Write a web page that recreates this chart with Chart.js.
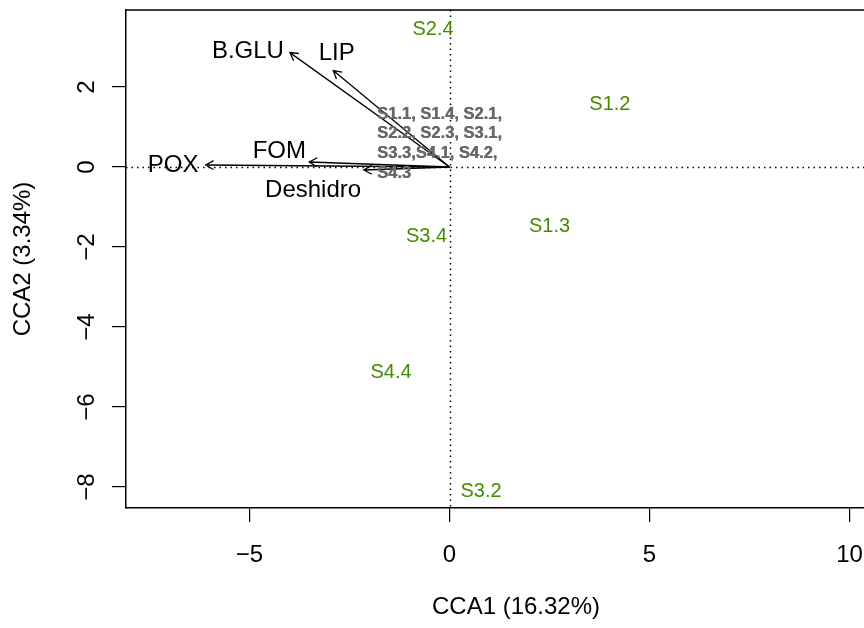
<!DOCTYPE html>
<html>
<head>
<meta charset="utf-8">
<script src="https://cdn.jsdelivr.net/npm/chart.js@4/dist/chart.umd.min.js"></script>
<style>
  html, body { margin: 0; padding: 0; background: #ffffff; overflow: hidden; }
  #wrap { width: 864px; height: 628px; }
</style>
</head>
<body>
<div id="wrap"><canvas id="cca" width="864" height="628"></canvas></div>
<script>
// Site scores (labelled individually)
const siteNames = ['S2.4', 'S1.2', 'S1.3', 'S3.4', 'S4.4', 'S3.2'];
const siteCCA1  = [-0.41, 4.01, 2.50, -0.575, -1.46, 0.79];
const siteCCA2  = [3.44, 1.57, -1.475, -1.725, -5.14, -8.10];

// Sites that overlap near the origin, written as one block of text
const clusterLines = ['S1.1, S1.4, S2.1,', 'S2.2, S2.3, S3.1,', 'S3.3,S4.1, S4.2,', 'S4.3'];
const clusterCCA1 = -1.81;
const clusterCCA2 = 1.325;

// Environmental variables (biplot arrows)
const envNames     = ['B.GLU', 'LIP', 'FOM', 'POX', 'Deshidro'];
const envCCA1      = [-3.99, -2.905, -3.505, -6.095, -2.14];
const envCCA2      = [2.86, 2.41, 0.125, 0.05, -0.075];
const envLabelCCA1 = [-5.04, -2.82, -4.255, -6.91, -3.41];
const envLabelCCA2 = [2.88, 2.84, 0.38, 0.05, -0.575];

// Axis ticks and titles
const xTicks = [-5, 0, 5, 10];
const yTicks = [-8, -6, -4, -2, 0, 2];
const xTitle = 'CCA1 (16.32%)';
const yTitle = 'CCA2 (3.34%)';

const SITE_COLOR = '#458B00';
const CLUSTER_COLOR = '#686868';
const FONT = '"Liberation Sans", Arial, Helvetica, sans-serif';

const fmt = v => (v < 0 ? '\u2212' + Math.abs(v) : String(v));

const biplotDecor = {
  id: 'biplotDecor',
  beforeDatasetsDraw(chart) {
    const { ctx, chartArea: a, scales: { x, y } } = chart;
    const x0 = Math.round(x.getPixelForValue(0)) + 0.5;
    const y0 = Math.round(y.getPixelForValue(0)) + 0.5;
    ctx.save();
    ctx.strokeStyle = '#000';
    ctx.lineWidth = 1.5;
    ctx.setLineDash([1.5, 4]);
    ctx.beginPath();
    ctx.moveTo(a.left, y0); ctx.lineTo(a.right, y0);
    ctx.moveTo(x0, a.top); ctx.lineTo(x0, a.bottom);
    ctx.stroke();
    ctx.setLineDash([]);
    // top edge of the plot box
    ctx.lineWidth = 1.5;
    ctx.beginPath();
    ctx.moveTo(a.left, a.top); ctx.lineTo(a.right + 2, a.top);
    ctx.stroke();
    ctx.restore();
  },
  afterDatasetsDraw(chart) {
    const { ctx, chartArea: a, scales: { x, y } } = chart;
    ctx.save();

    // arrows from the origin to each variable
    const ox = x.getPixelForValue(0), oy = y.getPixelForValue(0);
    ctx.strokeStyle = '#000';
    ctx.lineWidth = 1.3;
    chart.getDatasetMeta(1).data.forEach(pt => {
      const tx = pt.x, ty = pt.y;
      const ang = Math.atan2(ty - oy, tx - ox);
      const L = 9, H = Math.PI / 6;
      ctx.beginPath();
      ctx.moveTo(ox, oy); ctx.lineTo(tx, ty);
      ctx.moveTo(tx - L * Math.cos(ang - H), ty - L * Math.sin(ang - H));
      ctx.lineTo(tx, ty);
      ctx.lineTo(tx - L * Math.cos(ang + H), ty - L * Math.sin(ang + H));
      ctx.stroke();
    });

    // variable names
    ctx.fillStyle = '#000';
    ctx.font = '24px ' + FONT;
    ctx.textAlign = 'center';
    ctx.textBaseline = 'middle';
    chart.getDatasetMeta(2).data.forEach((pt, i) => {
      ctx.fillText(envNames[i], pt.x, pt.y);
    });

    // site names
    ctx.fillStyle = SITE_COLOR;
    ctx.font = '20px ' + FONT;
    chart.getDatasetMeta(0).data.forEach((pt, i) => {
      ctx.fillText(siteNames[i], pt.x, pt.y);
    });

    // overlapping sites near the origin (overprinted labels look heavier)
    const c = chart.getDatasetMeta(3).data[0];
    ctx.fillStyle = CLUSTER_COLOR;
    ctx.font = 'bold 16.5px ' + FONT;
    ctx.textAlign = 'left';
    clusterLines.forEach((line, i) => {
      ctx.fillText(line, c.x, c.y + i * 19.8);
      ctx.fillText(line, c.x + 0.4, c.y + i * 19.8);
    });

    // tick labels
    ctx.fillStyle = '#000';
    ctx.font = '24px ' + FONT;
    ctx.textAlign = 'center';
    ctx.textBaseline = 'middle';
    xTicks.forEach(v => {
      ctx.fillText(fmt(v), x.getPixelForValue(v), a.bottom + 47);
    });
    yTicks.forEach(v => {
      ctx.save();
      ctx.translate(a.left - 39, y.getPixelForValue(v));
      ctx.rotate(-Math.PI / 2);
      ctx.fillText(fmt(v), 0, 0);
      ctx.restore();
    });

    // axis titles
    ctx.fillText(xTitle, a.left + 390, a.bottom + 99);
    ctx.save();
    ctx.translate(a.left - 103, (a.top + a.bottom) / 2);
    ctx.rotate(-Math.PI / 2);
    ctx.fillText(yTitle, 0, 0);
    ctx.restore();

    ctx.restore();
  }
};

const toPoints = (xs, ys) => xs.map((v, i) => ({ x: v, y: ys[i] }));

const axisCommon = {
  type: 'linear',
  grid: { display: true, drawOnChartArea: false, drawTicks: true, tickLength: 14, color: '#000', lineWidth: 1.2 },
  border: { display: true, color: '#000', width: 1.5 },
  ticks: { display: false }
};

new Chart(document.getElementById('cca'), {
  type: 'scatter',
  data: {
    datasets: [
      { label: 'sites', data: toPoints(siteCCA1, siteCCA2), pointRadius: 0, pointHoverRadius: 0 },
      { label: 'variables', data: toPoints(envCCA1, envCCA2), pointRadius: 0, pointHoverRadius: 0 },
      { label: 'variable labels', data: toPoints(envLabelCCA1, envLabelCCA2), pointRadius: 0, pointHoverRadius: 0 },
      { label: 'overlapping sites', data: [{ x: clusterCCA1, y: clusterCCA2 }], pointRadius: 0, pointHoverRadius: 0 }
    ]
  },
  options: {
    responsive: false,
    animation: false,
    events: [],
    layout: { padding: { top: 10, left: 0, right: 0, bottom: 0 } },
    plugins: { legend: { display: false }, tooltip: { enabled: false } },
    scales: {
      x: Object.assign({}, axisCommon, {
        min: -8.0875, max: 10.3625,
        afterBuildTicks: s => { s.ticks = xTicks.map(v => ({ value: v })); },
        afterFit: s => { s.height = 120; s.paddingLeft = 0; s.paddingRight = 0; }
      }),
      y: Object.assign({}, axisCommon, {
        min: -8.525, max: 3.925,
        afterBuildTicks: s => { s.ticks = yTicks.map(v => ({ value: v })); },
        afterFit: s => { s.width = 126; s.paddingTop = 0; s.paddingBottom = 0; }
      })
    }
  },
  plugins: [biplotDecor]
});
</script>
</body>
</html>
